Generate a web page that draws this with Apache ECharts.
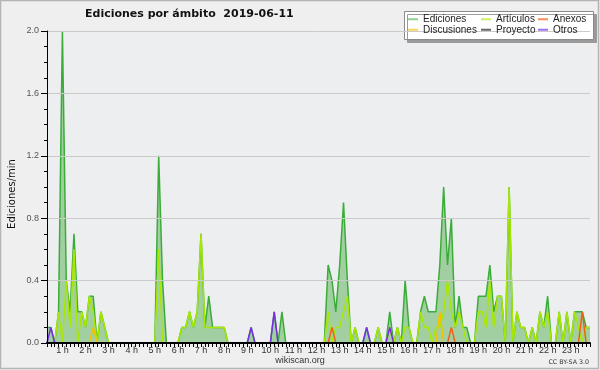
<!DOCTYPE html>
<html><head><meta charset="utf-8">
<script src="https://cdn.jsdelivr.net/npm/echarts@6/dist/echarts.min.js"></script>
<style>html,body{margin:0;padding:0;background:#efefef}#c{width:600px;height:370px}</style>
</head><body><div id="c"></div>
<script>
// 10-minute bins from 00:20 to 23:50 (edits per minute)
const times = [];
for (let m = 20; m <= 1430; m += 10) times.push(Math.floor(m / 60) + ':' + String(m % 60).padStart(2, '0'));

const ediciones = [
0.1,0.1,0,0.2,2.0,0.4,0.2,0.7,0.2,0.2,0.1,0.3,0.3,0,0.2,0.1,0,0,0,0,
0,0,0,0,0,0,0,0,0,1.2,0.4,0,0,0,0,0.1,0.1,0.2,0.1,0.2,
0.7,0.1,0.3,0.1,0.1,0.1,0.1,0,0,0,0,0,0,0.1,0,0,0,0,0,0.2,
0,0.2,0,0,0,0,0,0,0,0,0,0,0,0.5,0.4,0.2,0.5,0.9,0.4,0,
0.1,0,0,0.1,0,0,0.1,0,0,0.2,0,0.1,0,0.4,0.1,0,0,0.2,0.3,0.2,
0.2,0.2,0.5,1.0,0.5,0.8,0.1,0.3,0.1,0.1,0,0,0.3,0.3,0.3,0.5,0.2,0.3,0.3,0,
1.0,0,0.2,0.1,0.1,0,0.1,0,0.2,0.1,0.3,0,0,0.2,0,0.2,0,0.2,0.2,0.2,
0.1,0.1];
const articulos = [
0,0,0,0.2,0,0.4,0.1,0.6,0,0.2,0.1,0.3,0.2,0,0.2,0.1,0,0,0,0,
0,0,0,0,0,0,0,0,0,0.6,0,0,0,0,0,0.1,0.1,0.2,0.1,0.2,
0.7,0.1,0.1,0.1,0.1,0.1,0.1,0,0,0,0,0,0,0,0,0,0,0,0,0,
0,0,0,0,0,0,0,0,0,0,0,0,0,0.2,0,0.1,0.1,0.2,0.3,0,
0.1,0,0,0,0,0,0.1,0,0,0.1,0,0.1,0,0.1,0.1,0,0,0.2,0.1,0.1,
0,0.1,0.1,0.2,0.4,0.2,0.1,0.2,0.1,0,0,0,0.2,0.2,0.1,0.4,0.1,0.3,0.3,0,
1.0,0,0.2,0.1,0.1,0,0.1,0,0.2,0.1,0.2,0,0,0.2,0,0.2,0,0.2,0.1,0,
0.1,0.1];
const discusiones = new Array(142).fill(0);
discusiones[12] = 0.1; discusiones[102] = 0.2;
const anexos = new Array(142).fill(0);
anexos[74] = 0.1; anexos[105] = 0.1; anexos[139] = 0.2;
const proyecto = new Array(142).fill(0);
const otros = new Array(142).fill(0);
otros[1] = 0.1; otros[53] = 0.1; otros[59] = 0.2; otros[83] = 0.1; otros[89] = 0.1;

const lineColors = {Ediciones:'#3aad38',Artículos:'#a8e800',Anexos:'#f0601c',Discusiones:'#f2c200',Proyecto:'#555555',Otros:'#7a2ee6'};
const legendColors = {Ediciones:'#8fd18f',Artículos:'#cdf05c',Anexos:'#f48c5c',Discusiones:'#f6d65c',Proyecto:'#666666',Otros:'#a070f0'};
const font = 'DejaVu Sans';
const small = 'Liberation Sans';

function mkSeries(name, data, area) {
  const s = {name, type:'line', data, symbol:'none', smooth:false, animation:false, z:2,
    lineStyle:{color:lineColors[name], width:1.5}, itemStyle:{color:lineColors[name]}};
  if (area) s.areaStyle = {color:'#a2cfa2', opacity:1};
  return s;
}
function mkLegend(left, items) {
  return {orient:'vertical', left, top:14, itemGap:0, itemWidth:10, itemHeight:2, icon:'rect', z:20,
    selectedMode:false, padding:0,
    textStyle:{fontFamily:small, fontSize:10, color:'#222', lineHeight:10.5},
    data: items.map(n => ({name:n, itemStyle:{color:legendColors[n]}}))};
}

const chart = echarts.init(document.getElementById('c'), null, {renderer:'canvas'});
chart.setOption({
  backgroundColor:'#efefef',
  animation:false,
  title:{text:'Ediciones por ámbito  2019-06-11', left:85, top:9, padding:0,
    textStyle:{fontFamily:font, fontSize:11, fontWeight:'bold', color:'#111'}},
  legend:[mkLegend(408,['Ediciones','Discusiones']), mkLegend(481,['Artículos','Proyecto']), mkLegend(538,['Anexos','Otros'])],
  grid:{left:47, right:10, top:31, bottom:27, show:true, backgroundColor:'#eceef0', borderWidth:0},
  xAxis:{type:'category', data:times, boundaryGap:false, z:5,
    axisLine:{lineStyle:{color:'#000', width:2}},
    axisTick:{show:true, interval:0, length:4, lineStyle:{color:'#000'}},
    axisLabel:{interval:(i, v) => v.endsWith(':00'), formatter:v => parseInt(v) + ' h',
      fontFamily:small, fontSize:9, color:'#333', margin:3},
    splitLine:{show:false}},
  yAxis:{type:'value', min:0, max:2.0, interval:0.4, z:5,
    axisLine:{show:true, lineStyle:{color:'#000'}},
    axisTick:{show:true, length:6, lineStyle:{color:'#000'}},
    minorTick:{show:true, splitNumber:4, length:3, lineStyle:{color:'#000'}},
    axisLabel:{formatter:v => v.toFixed(1), fontFamily:small, fontSize:9, color:'#555', margin:8},
    splitLine:{show:true, lineStyle:{color:'#cacaca', width:1}}},
  series:[
    mkSeries('Ediciones', ediciones, true),
    mkSeries('Proyecto', proyecto),
    mkSeries('Artículos', articulos),
    mkSeries('Discusiones', discusiones),
    mkSeries('Anexos', anexos),
    mkSeries('Otros', otros)
  ],
  graphic:[
    {type:'rect', z:-1, shape:{x:0.5,y:0.5,width:598,height:368}, style:{fill:null, stroke:'#b4b4b4', lineWidth:1.5}},
    {type:'rect', z:1, shape:{x:404.5,y:11.5,width:189,height:28}, style:{fill:'#ffffff', stroke:'#8a8a8a', lineWidth:1, shadowColor:'#9a9a9a', shadowOffsetX:3, shadowOffsetY:3, shadowBlur:0}},
    {type:'text', z:10, x:12, y:194, rotation:Math.PI/2, style:{text:'Ediciones/min', fontFamily:font, fontSize:10, fill:'#111', align:'center', verticalAlign:'middle'}},
    {type:'text', z:10, x:300, y:361, style:{text:'wikiscan.org', fontFamily:small, fontSize:9, fill:'#333', align:'center', verticalAlign:'middle'}},
    {type:'text', z:10, x:589, y:362, style:{text:'CC BY-SA 3.0', fontFamily:font, fontSize:6.3, fill:'#333', align:'right', verticalAlign:'middle'}}
  ]
});
</script></body></html>
